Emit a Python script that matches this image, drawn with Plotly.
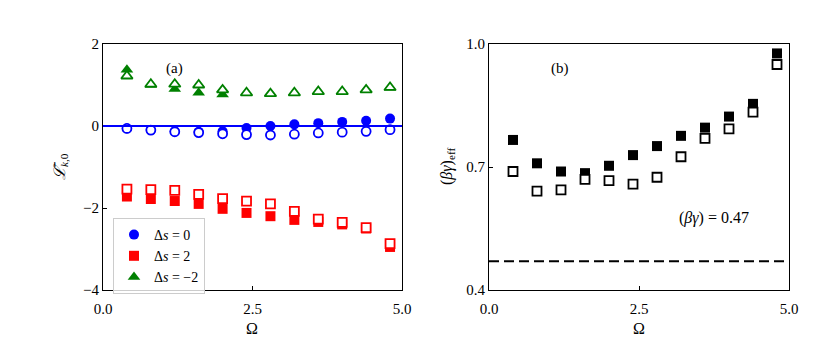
import plotly.graph_objects as go

# ---- data ----
omega = [0.4, 0.8, 1.2, 1.6, 2.0, 2.4, 2.8, 3.2, 3.6, 4.0, 4.4, 4.8]

# panel (a): filled = full, open = approximation
l_ds0_full = [-0.06, -0.10, -0.13, -0.14, -0.13, -0.05, 0.00, 0.04, 0.07, 0.10, 0.13, 0.18]
l_ds0_open = [-0.06, -0.10, -0.14, -0.16, -0.19, -0.21, -0.22, -0.20, -0.17, -0.15, -0.13, -0.09]
l_ds2_full = [-1.72, -1.78, -1.83, -1.90, -2.02, -2.12, -2.20, -2.29, -2.34, -2.40, -2.50, -2.95]
l_ds2_open = [-1.54, -1.55, -1.57, -1.67, -1.77, -1.83, -1.90, -2.08, -2.27, -2.35, -2.48, -2.87]
l_dsm2_full = [1.37, 1.00, 0.90, 0.81, 0.77, 0.80, 0.78, 0.80, 0.83, 0.83, 0.87, 0.93]
l_dsm2_open = [1.22, 1.02, 1.02, 1.00, 0.88, 0.81, 0.79, 0.81, 0.84, 0.84, 0.88, 0.94]

# panel (b)
bg_eff_full = [0.766, 0.709, 0.689, 0.685, 0.703, 0.729, 0.751, 0.776, 0.796, 0.823, 0.854, 0.977]
bg_eff_open = [0.689, 0.641, 0.644, 0.670, 0.667, 0.658, 0.675, 0.725, 0.770, 0.793, 0.834, 0.950]
bg_ref = 0.47

FONT = "Liberation Serif"
W, H = 830, 363
OFF = 8  # page body margin


def px(x):
    return (x - OFF) / W


def py(y):
    return 1 - (y - OFF) / H


fig = go.Figure()

# ---- Panel (a) ----
fig.add_hline(y=0, line_color="blue", line_width=2, xref="x", yref="y")

series_a = [
    (l_ds0_full, l_ds0_open, "blue", "circle", "Δ<i>s</i> = 0", 10),
    (l_ds2_full, l_ds2_open, "red", "square", "Δ<i>s</i> = 2", 10),
    (l_dsm2_full, l_dsm2_open, "green", "triangle-up", "Δ<i>s</i> = −2", 11),
]
for full, approx, col, sym, name, size in series_a:
    fig.add_trace(go.Scatter(
        x=omega, y=full, mode="markers", name=name,
        marker=dict(symbol=sym, size=size, color=col, line=dict(width=0)),
        xaxis="x", yaxis="y",
    ))
for full, approx, col, sym, name, size in series_a:
    fig.add_trace(go.Scatter(
        x=omega, y=approx, mode="markers", showlegend=False,
        marker=dict(symbol=sym, size=size - 1, color="white", line=dict(width=1.8, color=col)),
        xaxis="x", yaxis="y",
    ))

# ---- Panel (b) ----
fig.add_trace(go.Scatter(
    x=omega, y=bg_eff_full, mode="markers", showlegend=False,
    marker=dict(symbol="square", size=10, color="black", line=dict(width=0)),
    xaxis="x2", yaxis="y2",
))
fig.add_trace(go.Scatter(
    x=omega, y=bg_eff_open, mode="markers", showlegend=False,
    marker=dict(symbol="square", size=9, color="white", line=dict(width=1.8, color="black")),
    xaxis="x2", yaxis="y2",
))
fig.add_hline(y=bg_ref, line_color="black", line_width=2, line_dash="10px,5px",
              xref="x2", yref="y2")

axis_common = dict(
    showgrid=False, zeroline=False, showline=True, linecolor="black", linewidth=1,
    mirror=True, ticks="inside", ticklen=4, tickcolor="black", automargin=False,
    tickfont=dict(family=FONT, size=15, color="black"),
)

fig.update_layout(
    width=W, height=H,
    margin=dict(l=0, r=0, t=0, b=0),
    paper_bgcolor="white", plot_bgcolor="white",
    xaxis=dict(domain=[px(103), px(402)], range=[0, 5], tickvals=[0, 2.5, 5],
               ticktext=["0.0", "2.5", "5.0"], anchor="y", ticklabelstandoff=5,
               **axis_common),
    yaxis=dict(domain=[py(290), py(44)], range=[-4, 2], tickvals=[-4, -2, 0, 2],
               ticktext=["−4", "−2", "0", "2"], anchor="x", **axis_common),
    xaxis2=dict(domain=[px(489), px(789)], range=[0, 5], tickvals=[0, 2.5, 5],
                ticktext=["0.0", "2.5", "5.0"], anchor="y2", ticklabelstandoff=5,
                **axis_common),
    yaxis2=dict(domain=[py(290), py(44)], range=[0.4, 1.0], tickvals=[0.4, 0.7, 1.0],
                ticktext=["0.4", "0.7", "1.0"], anchor="x2", **axis_common),
    legend=dict(
        x=px(113), y=py(218), xanchor="left", yanchor="top",
        bgcolor="rgba(255,255,255,0.8)", bordercolor="#cccccc", borderwidth=1,
        font=dict(family=FONT, size=14, color="black"),
        itemwidth=30, tracegroupgap=0,
    ),
    font=dict(family=FONT, color="black"),
)

annots = [
    dict(x=174, y=68, text="(a)", size=15, angle=0),
    dict(x=560, y=68, text="(b)", size=15, angle=0),
    dict(x=714, y=218, text="(<i>βγ</i>) = 0.47", size=16, angle=0),
    dict(x=252, y=328, text="Ω", size=16, angle=0),
    dict(x=639, y=328, text="Ω", size=16, angle=0),
    dict(x=60, y=167, text="<i>ℒ̄</i><sub><i>k</i>,0</sub>", size=16, angle=-90),
    dict(x=447, y=167, text="(<i>βγ</i>)<sub>eff</sub>", size=16, angle=-90),
]
for a in annots:
    fig.add_annotation(
        x=px(a["x"]), y=py(a["y"]), xref="paper", yref="paper", text=a["text"],
        showarrow=False, textangle=a["angle"], xanchor="center", yanchor="middle",
        font=dict(family=FONT, size=a["size"], color="black"),
    )

fig.write_html("out.html")
